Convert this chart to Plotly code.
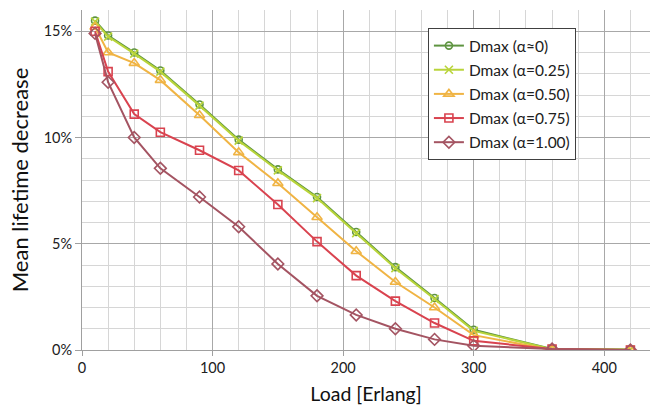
import plotly.graph_objects as go

# Offered load (Erlang)
load = [10, 20, 40, 60, 90, 120, 150, 180, 210, 240, 270, 300, 360, 420]

# Mean lifetime decrease (%) per alpha setting
d_a000 = [15.5, 14.8, 14.0, 13.15, 11.55, 9.9, 8.5, 7.2, 5.55, 3.9, 2.45, 0.95, 0.05, 0.02]
d_a025 = [15.45, 14.75, 13.95, 13.1, 11.5, 9.85, 8.45, 7.15, 5.5, 3.85, 2.4, 0.9, 0.04, 0.02]
d_a050 = [15.2, 14.0, 13.5, 12.7, 11.05, 9.3, 7.85, 6.25, 4.65, 3.2, 2.0, 0.7, 0.0, 0.0]
d_a075 = [15.0, 13.1, 11.1, 10.25, 9.4, 8.45, 6.85, 5.1, 3.5, 2.3, 1.27, 0.43, 0.05, 0.0]
d_a100 = [14.9, 12.6, 10.0, 8.55, 7.2, 5.8, 4.05, 2.55, 1.65, 1.0, 0.5, 0.2, 0.05, 0.0]

names = ["Dmax (α≈0)", "Dmax (α=0.25)", "Dmax (α=0.50)", "Dmax (α=0.75)", "Dmax (α=1.00)"]
series = [d_a000, d_a025, d_a050, d_a075, d_a100]
colors = ["#5e9440", "#b9d43a", "#f0b444", "#d9434f", "#a45462"]
symbols = ["circle-open", "x-thin-open", "triangle-up-open", "square-open", "diamond-open"]
sizes = [7, 8, 9, 8, 9]

fig = go.Figure()
for i, (nm, ys, c, sym, sz) in enumerate(zip(names, series, colors, symbols, sizes)):
    fig.add_trace(go.Scatter(
        x=load, y=ys, name=nm, mode="lines+markers",
        line=dict(color=c, width=2),
        marker=dict(symbol=sym, size=sz, color=c, line=dict(color=c, width=1.6)),
        legendgroup=f"g{i}",
    ))

font_family = "Lato, 'Open Sans', sans-serif"

fig.update_layout(
    width=650, height=409,
    margin=dict(l=82, r=0, t=10, b=59),
    paper_bgcolor="white", plot_bgcolor="white",
    font=dict(family=font_family, color="#202020"),
    showlegend=True,
    legend=dict(
        x=0.609, y=0.947, xanchor="left", yanchor="top",
        bgcolor="white", bordercolor="#404040", borderwidth=1,
        font=dict(size=15.5, color="#202020"),
        traceorder="grouped", tracegroupgap=1,
        itemwidth=30,
    ),
    xaxis=dict(
        range=[0, 435], dtick=100, tick0=0,
        showgrid=True, gridcolor="#a8a8a8", gridwidth=1,
        minor=dict(dtick=20, showgrid=True, gridcolor="#d6d6d6", gridwidth=1),
        showline=True, linecolor="#a0a0a0", linewidth=1,
        ticks="outside", ticklen=5, tickcolor="#a0a0a0",
        tickfont=dict(size=14.5, color="#202020"),
        title=dict(text="Load [Erlang]", font=dict(size=19.5, color="#101010"), standoff=11),
        zeroline=False,
    ),
    yaxis=dict(
        range=[0, 16], dtick=5, tick0=0, ticksuffix="%",
        showgrid=True, gridcolor="#a8a8a8", gridwidth=1,
        minor=dict(dtick=1, showgrid=True, gridcolor="#d6d6d6", gridwidth=1),
        showline=True, linecolor="#a0a0a0", linewidth=1,
        ticks="outside", ticklen=6, tickcolor="#a0a0a0",
        tickfont=dict(size=14.5, color="#202020"),
        title=dict(text="Mean lifetime decrease", font=dict(size=22, color="#101010"), standoff=8),
        zeroline=False,
    ),
)

fig.write_html("out.html")
